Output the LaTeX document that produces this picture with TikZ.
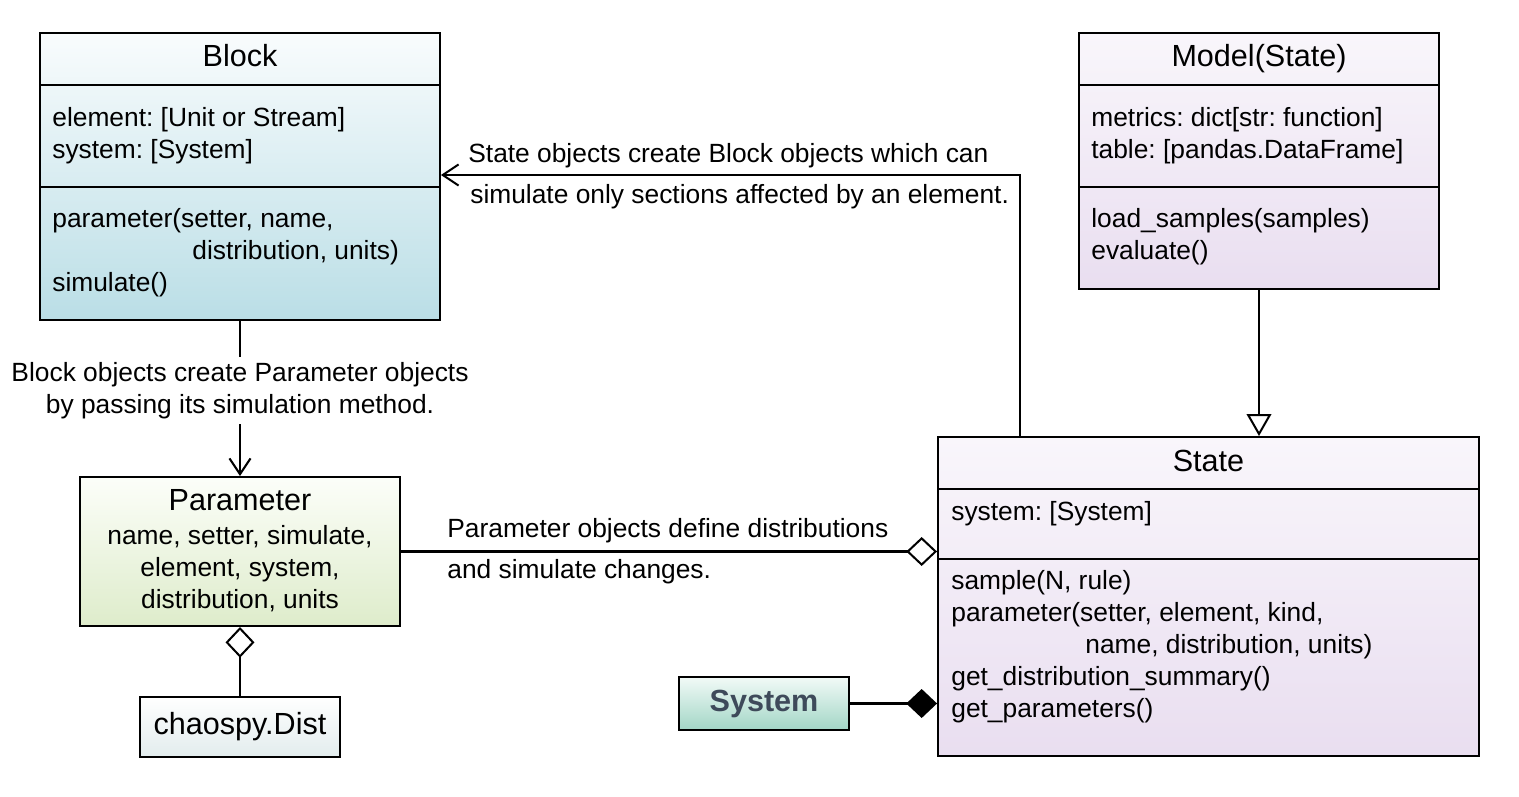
\documentclass[tikz,border=0pt]{standalone}
\usepackage{fontspec}
\setmainfont{Liberation Sans}
\usetikzlibrary{arrows.meta, positioning, calc}
\frenchspacing

\definecolor{blkTop}{RGB}{249,252,253}
\definecolor{blkBot}{RGB}{186,222,230}
\definecolor{mdlTop}{RGB}{249,246,251}
\definecolor{mdlBot}{RGB}{233,222,240}
\definecolor{parTop}{RGB}{252,254,249}
\definecolor{parBot}{RGB}{222,236,203}
\definecolor{chsTop}{RGB}{255,255,255}
\definecolor{chsBot}{RGB}{226,236,237}
\definecolor{sysTop}{RGB}{242,250,247}
\definecolor{sysBot}{RGB}{162,214,198}
\definecolor{sysInk}{RGB}{62,74,90}

\begin{document}
\begin{tikzpicture}[
    x=0.02cm, y=-0.02cm,
    lnk/.style={line width=1.15pt},
    cls/.style={draw, line width=1.15pt, inner sep=0pt},
    txt/.style={font=\fontsize{15}{18}\selectfont, anchor=base west, inner sep=0pt},
    ctxt/.style={txt, anchor=base},
    ttl/.style={font=\fontsize{17.4}{21}\selectfont, anchor=base, inner sep=0pt},
    opn/.style={-{Straight Barb[length=9pt, width=12pt]}},
    odia/.tip={Diamond[open, length=17.5pt, width=16.5pt]},
    fdia/.tip={Diamond[length=17.5pt, width=16.5pt]},
]
\useasboundingbox (0,0) rectangle (1519,797);
% === Block ===
\node[cls, top color=blkTop, bottom color=blkBot, minimum width=8cm, minimum height=5.74cm] (blk) at (240,176.5) {};
\draw[lnk] (blk.west |- 0,85) -- (blk.east |- 0,85);
\draw[lnk] (blk.west |- 0,187) -- (blk.east |- 0,187);
\node[ttl] (blkT) at (240,67) {Block};
\node[txt] (blkA1) at (52,127) {element: [Unit or Stream]};
\node[txt] (blkA2) at (52,159) {system: [System]};
\node[txt] (blkM1) at (52,228) {parameter(setter, name,};
\node[txt] (blkM2) at (192,260) {distribution, units)};
\node[txt] (blkM3) at (52,292) {simulate()};
% === Model(State) ===
\node[cls, top color=mdlTop, bottom color=mdlBot, minimum width=7.2cm, minimum height=5.12cm] (mdl) at (1259,161) {};
\draw[lnk] (mdl.west |- 0,85) -- (mdl.east |- 0,85);
\draw[lnk] (mdl.west |- 0,187) -- (mdl.east |- 0,187);
\node[ttl] (mdlT) at (1259,67) {Model(State)};
\node[txt] (mdlA1) at (1091,127) {metrics: dict[str: function]};
\node[txt] (mdlA2) at (1091,159) {table: [pandas.DataFrame]};
\node[txt] (mdlM1) at (1091,228) {load\_samples(samples)};
\node[txt] (mdlM2) at (1091,260) {evaluate()};
% === Parameter ===
\node[cls, top color=parTop, bottom color=parBot, minimum width=6.4cm, minimum height=2.98cm] (par) at (240,551.5) {};
\node[ttl] (parT) at (240,510) {Parameter};
\foreach \y/\t [count=\i] in {544/{name, setter, simulate,}, 576/{element, system,}, 608/{distribution, units}} {
    \node[ctxt] (parA\i) at (240,\y) {\t};
}
% === chaospy.Dist ===
\node[cls, top color=chsTop, bottom color=chsBot, minimum width=4.02cm, minimum height=1.2cm, font=\fontsize{17.4}{21}\selectfont] (chs) at (240,727) {chaospy.Dist};
% === State ===
\node[cls, top color=mdlTop, bottom color=mdlBot, minimum width=10.82cm, minimum height=6.38cm] (stt) at (1208.5,596.5) {};
\draw[lnk] (stt.west |- 0,489) -- (stt.east |- 0,489);
\draw[lnk] (stt.west |- 0,559) -- (stt.east |- 0,559);
\node[ttl] (sttT) at (1208.5,471) {State};
\node[txt] (sttA1) at (951,520) {system: [System]};
\node[txt] (sttM1) at (951,589) {sample(N, rule)};
\node[txt] (sttM2) at (951,621) {parameter(setter, element, kind,};
\node[txt] (sttM3) at (1085,653) {name, distribution, units)};
\node[txt] (sttM4) at (951,685) {get\_distribution\_summary()};
\node[txt] (sttM5) at (951,717) {get\_parameters()};
% === System ===
\node[cls, top color=sysTop, bottom color=sysBot, minimum width=3.4cm, minimum height=1.06cm, text=sysInk, font=\fontsize{17.4}{21}\selectfont\bfseries] (sys) at (764,703.5) {System};
% === Connectors ===
\draw[lnk, opn] (blk.south) -- node[txt, anchor=center, fill=white, align=center, inner sep=3pt, pos=0.45] (lblP) {Block objects create Parameter objects\\by passing its simulation method.} (par.north);
%
\coordinate (bnd) at (1020,175);
\draw[lnk, opn] (stt.north -| bnd) -- (bnd) -- (blk.east |- bnd);
\node[txt] (lblB1) at (468,163) {State objects create Block objects which can};
\node[txt] (lblB2) at (470,204) {simulate only sections affected by an element.};
%
\draw[lnk, -odia] (par.east) -- (par.east -| stt.west);
\node[txt] (lblS1) at (447,537) {Parameter objects define distributions};
\node[txt] (lblS2) at (447,578) {and simulate changes.};
%
\draw[lnk, -{Triangle[open, length=12.5pt, width=14pt]}] (mdl.south) -- (mdl.south |- stt.north);
\draw[lnk, -fdia] (sys.east) -- (sys.east -| stt.west);
\draw[lnk, odia-] (par.south) -- (chs.north);
\end{tikzpicture}
\end{document}
